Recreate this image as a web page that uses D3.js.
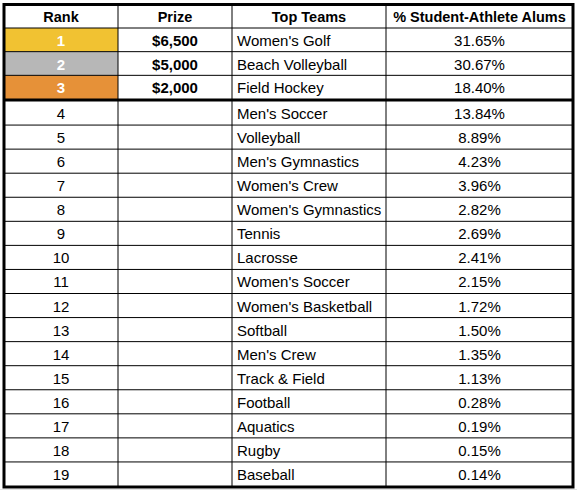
<!DOCTYPE html><html><head><meta charset="utf-8"><script src="https://cdn.jsdelivr.net/npm/d3@7"></script>
<style>body{margin:0;background:#fff}</style></head><body><svg id="c" width="577" height="491"></svg><script>
const headers=["Rank","Prize","Top Teams","% Student-Athlete Alums"];
const ranks=[1,2,3,4,5,6,7,8,9,10,11,12,13,14,15,16,17,18,19];
const prizes=["$6,500","$5,000","$2,000"];
const teams=["Women's Golf","Beach Volleyball","Field Hockey","Men's Soccer","Volleyball","Men's Gymnastics","Women's Crew","Women's Gymnastics","Tennis","Lacrosse","Women's Soccer","Women's Basketball","Softball","Men's Crew","Track & Field","Football","Aquatics","Rugby","Baseball"];
const pcts=[31.65,30.67,18.40,13.84,8.89,4.23,3.96,2.82,2.69,2.41,2.15,1.72,1.50,1.35,1.13,0.28,0.19,0.15,0.14];
const medal=["#f1c232","#b7b7b7","#e69138"];
const svg=d3.select("#c");
const cols=[4,118,232,386,573];
const yTop=d3.scaleLinear().domain([0,3]).range([28,99]);
const yBot=d3.scaleLinear().domain([3,19]).range([101,486]);
const rowY=i=>i<3?yTop(i):yBot(i);
const rowH=i=>i<3?yTop(i+1)-yTop(i):yBot(i+1)-yBot(i);
const F="Liberation Sans, Arial, sans-serif";
svg.append("line").attr("stroke","#e2e2e2").attr("x1",0).attr("x2",577).attr("y1",489.5).attr("y2",489.5);
ranks.forEach((r,i)=>{
 if(i<3) svg.append("rect").attr("x",cols[0]).attr("y",rowY(i)).attr("width",cols[1]-cols[0]).attr("height",rowH(i)).attr("fill",medal[i]);
 const cy=rowY(i)+rowH(i)/2+6;
 svg.append("text").attr("x",(cols[0]+cols[1])/2).attr("y",cy).attr("text-anchor","middle").attr("font-family",F).attr("font-size",15).attr("font-weight",i<3?"bold":"normal").attr("fill",i<3?"#fff":"#000").text(r);
 if(i<3) svg.append("text").attr("x",(cols[1]+cols[2])/2).attr("y",cy).attr("text-anchor","middle").attr("font-family",F).attr("font-size",15).attr("font-weight","bold").text(prizes[i]);
 svg.append("text").attr("x",cols[2]+5).attr("y",cy).attr("font-family",F).attr("font-size",15).text(teams[i]);
 svg.append("text").attr("x",(cols[3]+cols[4])/2).attr("y",cy).attr("text-anchor","middle").attr("font-family",F).attr("font-size",15).text(pcts[i].toFixed(2)+"%");
});
headers.forEach((h,j)=>svg.append("text").attr("x",(cols[j]+cols[j+1])/2).attr("y",21.5).attr("text-anchor","middle").attr("font-family",F).attr("font-size",14.5).attr("font-weight","bold").text(h));
const g=svg.append("g").attr("stroke","#000");
[28].concat(ranks.map((r,i)=>rowY(i)+rowH(i))).slice(0,-1).forEach(yy=>{ if(Math.abs(yy-99)<0.5) return; g.append("line").attr("x1",cols[0]).attr("x2",cols[4]).attr("y1",yy).attr("y2",yy).attr("stroke-width",1);});
g.append("line").attr("x1",cols[0]).attr("x2",cols[4]).attr("y1",100).attr("y2",100).attr("stroke-width",3);
[1,2,3].forEach(j=>g.append("line").attr("x1",cols[j]).attr("x2",cols[j]).attr("y1",4).attr("y2",487).attr("stroke-width",1));
g.append("rect").attr("x",cols[0]).attr("y",4.5).attr("width",cols[4]-cols[0]).attr("height",482.5).attr("fill","none").attr("stroke-width",3);
</script></body></html>
